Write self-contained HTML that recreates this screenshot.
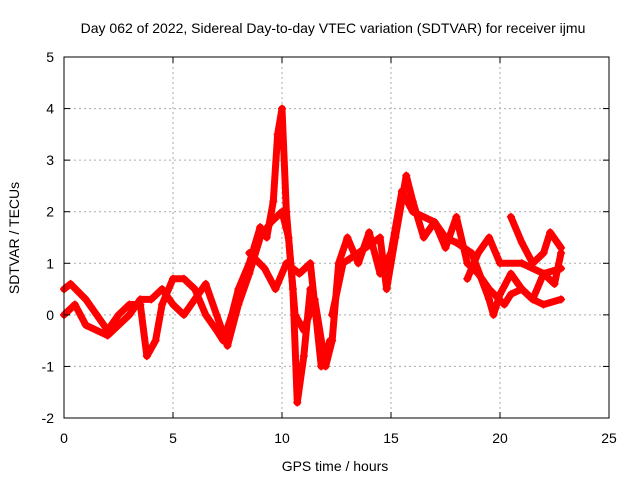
<!DOCTYPE html>
<html><head><meta charset="utf-8"><style>
body{margin:0;background:#fff;}
svg{display:block;font-family:"Liberation Sans",sans-serif;}
</style></head><body>
<svg id="chart" width="640" height="480" viewBox="0 0 640 480">
<rect width="640" height="480" fill="#fff"/>
<text x="333" y="33" text-anchor="middle" font-size="14">Day 062 of 2022, Sidereal Day-to-day VTEC variation (SDTVAR) for receiver ijmu</text>
<g id="grid"></g>
<g id="series"></g>
<rect x="64" y="57" width="545" height="361" fill="none" stroke="#000" stroke-width="1"/>
<g id="ticks"></g>
<text x="335" y="471" text-anchor="middle" font-size="14">GPS time / hours</text>
<text transform="translate(19,238) rotate(-90)" text-anchor="middle" font-size="14">SDTVAR / TECUs</text>
</svg>
<script>
const xTicks=[0,5,10,15,20,25];
const yTicks=[-2,-1,0,1,2,3,4,5];
const seriesA_t=[0,0.3,1,1.5,2,2.5,3,3.5,3.8,4.2,4.5,5,5.5,6,6.5,7,7.3,7.7,8,8.5,9,9.3,9.6,9.8,10,10.2,10.5,10.7,11,11.3];
const seriesA_v=[0.5,0.6,0.3,0,-0.3,0,0.2,0.2,-0.8,-0.5,0.2,0.7,0.7,0.5,0,-0.3,-0.5,0,0.5,1.0,1.7,1.5,2.2,3.5,4.0,2.0,0.5,-1.7,-0.8,0.5];
const seriesB_t=[0,0.5,1,2,2.5,3,3.5,4,4.5,5,5.5,6,6.5,7,7.5,8,8.5,9,9.5,10,10.3,10.6,11,11.5,12,12.3,12.6,13,13.5,14,14.5,15,15.5,16,17,17.5,18,18.5,19,19.5,20.2,20.5,21,21.5,22,22.8];
const seriesB_v=[0,0.2,-0.2,-0.4,-0.2,0,0.3,0.3,0.5,0.2,0,0.3,0.6,0,-0.6,0.2,0.8,1.5,1.8,2.0,1.5,0,-0.3,0.3,-1.0,-0.5,1.0,1.5,1.0,1.6,0.8,1.2,2.4,2.0,1.8,1.3,1.9,1.0,0.8,0.5,0.2,0.4,0.5,0.3,0.2,0.3];
const seriesC_t=[12.3,12.8,13.5,14.5,14.8,15.2,15.7,16,16.5,17,17.5,18,18.7,19.5,19.7,20,20.5,21,21.5,22,22.8];
const seriesC_v=[0,1.0,1.2,1.5,0.5,1.5,2.7,2.2,1.5,1.8,1.5,1.4,1.2,0.3,0,0.4,0.8,0.5,0.3,0.8,0.9];
const seriesD_t=[20.5,21,21.5,22,22.3,22.8];
const seriesD_v=[1.9,1.4,1.0,1.2,1.6,1.3];
const seriesE_t=[18.5,19,19.5,20,21,22,22.5,22.8];
const seriesE_v=[0.7,1.2,1.5,1.0,1.0,0.8,0.6,1.2];
const seriesF_t=[8.5,9.2,9.7,10.2,10.8,11.3,11.8,12.2];
const seriesF_v=[1.2,0.9,0.5,1.0,0.8,1.0,-1.0,-0.5];
const X0=64,X1=609,Y0=418,Y1=57;
const sx=t=>X0+(t-0)/(25-0)*(X1-X0);
const sy=v=>Y0-(v+2)/(7)*(Y0-Y1);
const NS="http://www.w3.org/2000/svg";
const grid=document.getElementById('grid'),ticks=document.getElementById('ticks'),ser=document.getElementById('series');
function mk(tag,attrs,parent){const e=document.createElementNS(NS,tag);for(const k in attrs)e.setAttribute(k,attrs[k]);parent.appendChild(e);return e;}
xTicks.forEach(t=>{const x=sx(t);
 if(t>0&&t<25){const g=mk('line',{x1:x,x2:x,y1:Y1,y2:Y0,stroke:'#aaa','stroke-dasharray':'2,3'},grid);}
 const l=mk('text',{x:x,y:443,'text-anchor':'middle','font-size':'14'},ticks);l.textContent=t;
 
 
 mk('line',{x1:x,x2:x,y1:Y0,y2:Y0-6,stroke:'#000'},ticks);mk('line',{x1:x,x2:x,y1:Y1,y2:Y1+6,stroke:'#000'},ticks);});
yTicks.forEach(v=>{const y=sy(v);
 if(v>-2&&v<5){const g=mk('line',{x1:X0,x2:X1,y1:y,y2:y,stroke:'#aaa','stroke-dasharray':'2,3'},grid);}
 const l=mk('text',{x:54,y:y+5,'text-anchor':'end','font-size':'14'},ticks);l.textContent=v;
 
 
 mk('line',{x1:X0,x2:X0+6,y1:y,y2:y,stroke:'#000'},ticks);mk('line',{x1:X1,x2:X1-6,y1:y,y2:y,stroke:'#000'},ticks);});
const all=[[seriesA_t,seriesA_v],[seriesB_t,seriesB_v],[seriesC_t,seriesC_v],[seriesD_t,seriesD_v],[seriesE_t,seriesE_v],[seriesF_t,seriesF_v]];
all.forEach(([ts,vs],i)=>{
 const pts=ts.map((t,j)=>sx(t)+','+sy(vs[j])).join(' ');
 const pl=mk('polyline',{points:pts,fill:'none',stroke:'#f00','stroke-width':'7','stroke-linejoin':'round','stroke-linecap':'round'},ser);
 
 
 ts.forEach((t,j)=>{const x=sx(t),y=sy(vs[j]);
  const p=mk('path',{d:`M${x-4},${y}H${x+4}M${x},${y-4}V${y+4}`,stroke:'#f00','stroke-width':'1.5'},ser);
  
  });
});
</script>
</body></html>
